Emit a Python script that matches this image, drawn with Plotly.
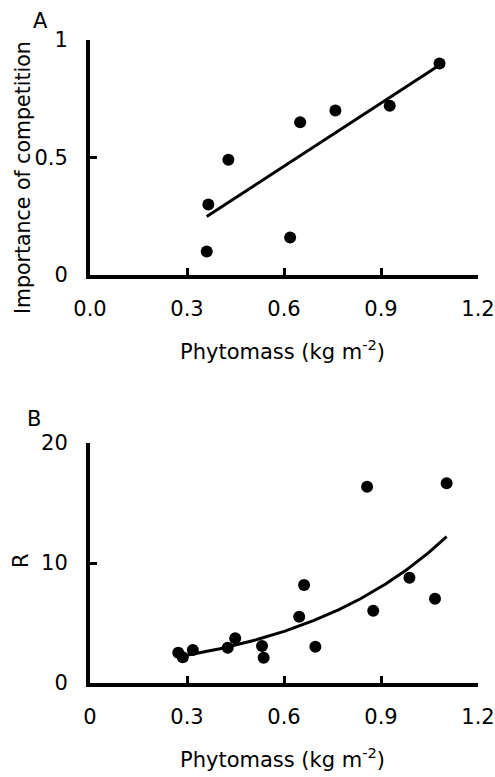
import numpy as np
import plotly.graph_objects as go

W, H = 495, 777

# ---------------- data ----------------
# Panel A
a_phytomass = [0.361, 0.366, 0.428, 0.619, 0.650, 0.759, 0.927, 1.081]
a_importance = [0.10, 0.30, 0.49, 0.16, 0.65, 0.70, 0.72, 0.90]
a_fit_slope = 0.896
a_fit_intercept = -0.075
a_fit_range = [0.361, 1.073]

a_xtickvals = [0, 0.3, 0.6, 0.9, 1.2]
a_xticktext = ["0.0", "0.3", "0.6", "0.9", "1.2"]
a_ytickvals = [0, 0.5, 1]
a_yticktext = ["0", "0.5", "1"]

# Panel B
b_phytomass = [0.273, 0.287, 0.318, 0.426, 0.449, 0.532, 0.537, 0.647, 0.662,
               0.697, 0.857, 0.876, 0.988, 1.067, 1.103]
b_R = [2.53, 2.14, 2.75, 2.94, 3.72, 3.08, 2.11, 5.53, 8.17,
       3.03, 16.36, 6.03, 8.78, 7.03, 16.64]
b_fit_a = 1.242
b_fit_b = 2.071
b_fit_range = [0.287, 1.103]

b_xtickvals = [0, 0.3, 0.6, 0.9, 1.2]
b_xticktext = ["0", "0.3", "0.6", "0.9", "1.2"]
b_ytickvals = [0, 10, 20]
b_yticktext = ["0", "10", "20"]

# ---------------- figure ----------------
FONT = "DejaVu Sans"
FS = 21


def px_x(p):
    return p / W


def px_y(p):
    return 1 - p / H


fig = go.Figure()

marker = dict(color="black", size=12, line=dict(width=0))

fig.add_trace(go.Scatter(x=a_phytomass, y=a_importance, mode="markers",
                         marker=marker, xaxis="x", yaxis="y", showlegend=False))
ax_fit = np.linspace(a_fit_range[0], a_fit_range[1], 50)
fig.add_trace(go.Scatter(x=ax_fit, y=a_fit_slope * ax_fit + a_fit_intercept,
                         mode="lines", line=dict(color="black", width=3),
                         xaxis="x", yaxis="y", showlegend=False))

fig.add_trace(go.Scatter(x=b_phytomass, y=b_R, mode="markers",
                         marker=marker, xaxis="x2", yaxis="y2", showlegend=False))
bx_fit = np.linspace(b_fit_range[0], b_fit_range[1], 200)
fig.add_trace(go.Scatter(x=bx_fit, y=b_fit_a * np.exp(b_fit_b * bx_fit),
                         mode="lines", line=dict(color="black", width=3),
                         xaxis="x2", yaxis="y2", showlegend=False))

common = dict(showline=True, linecolor="black", linewidth=4, ticks="inside",
              ticklen=7, tickwidth=3, tickcolor="black", showgrid=False,
              zeroline=False, tickmode="array", automargin=False,
              tickfont=dict(family=FONT, size=FS, color="black"))

xdom = [px_x(90), px_x(478)]

fig.update_layout(
    width=W, height=H,
    margin=dict(l=0, r=0, t=0, b=0, autoexpand=False),
    paper_bgcolor="white", plot_bgcolor="white",
    xaxis=dict(domain=xdom, range=[0, 1.2], tickvals=a_xtickvals,
               ticktext=a_xticktext, anchor="y", ticklabelstandoff=12, **common),
    yaxis=dict(domain=[px_y(275), px_y(40)], range=[0, 1], tickvals=a_ytickvals,
               ticktext=a_yticktext, anchor="x", ticklabelstandoff=14, **common),
    xaxis2=dict(domain=xdom, range=[0, 1.2], tickvals=b_xtickvals,
                ticktext=b_xticktext, anchor="y2", ticklabelstandoff=12, **common),
    yaxis2=dict(domain=[px_y(683), px_y(443)], range=[0, 20], tickvals=b_ytickvals,
                ticktext=b_yticktext, anchor="x2", ticklabelstandoff=14, **common),
)

tf = dict(family=FONT, size=FS, color="black")
annos = [
    dict(text="A", x=px_x(40), y=px_y(21)),
    dict(text="B", x=px_x(34), y=px_y(419)),
    dict(text="Phytomass (kg m<sup>-2</sup>)", x=px_x(282), y=px_y(350)),
    dict(text="Phytomass (kg m<sup>-2</sup>)", x=px_x(282), y=px_y(758)),
    dict(text="Importance of competition", x=px_x(23), y=px_y(178), textangle=-90,
         font=dict(family=FONT, size=20.5, color="black")),
    dict(text="R", x=px_x(21), y=px_y(561), textangle=-90),
]
for a in annos:
    a.setdefault("font", tf)
    fig.add_annotation(xref="paper", yref="paper", showarrow=False,
                       xanchor="center", yanchor="middle", **a)

fig.write_html("out.html",
               config={"displayModeBar": False},
               post_script="document.body.style.margin='0';"
                           "document.body.style.overflow='hidden';")
